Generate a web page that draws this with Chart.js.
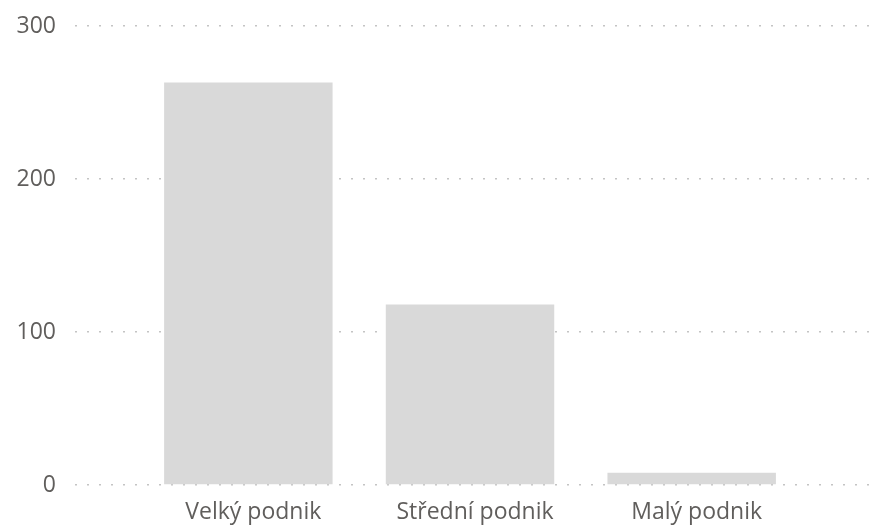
<!DOCTYPE html>
<html>
<head>
<meta charset="utf-8">
<script src="https://cdn.jsdelivr.net/npm/chart.js@4"></script>
<style>
  html, body { margin: 0; padding: 0; background: #fff; }
  #wrap { width: 871px; height: 525px; }
</style>
</head>
<body>
<div id="wrap"><canvas id="myChart"></canvas></div>
<script>
const labels = ['Velký podnik', 'Střední podnik', 'Malý podnik']
const values = [263, 118, 8]
const yTicks = [0, 100, 200, 300]

const points = values.map((v, i) => ({ x: i, y: v }))

const textColor = '#605e5c'
const font = { family: 'Open Sans', size: 23 }

const config = {
    type: 'bar',
    data: {
      datasets: [{
        data: points,
        backgroundColor: '#d9d9d9',
        borderWidth: 0,
        barPercentage: 0.76,
        categoryPercentage: 1
      }]
    },
    options: {
      responsive: false,
      animation: false,
      layout: { padding: { top: 26, right: 0, left: 0, bottom: 0 } },
      plugins: { legend: { display: false }, tooltip: { enabled: false } },
      scales: {
        x: {
          type: 'linear',
          offset: false,
          min: -0.782,
          max: 2.809,
          grid: { display: false },
          border: { display: false },
          afterBuildTicks: (s) => { s.ticks = labels.map((l, i) => ({ value: i })) },
          afterFit: (s) => { s.height = 40; s.paddingLeft = 0; s.paddingRight = 0 },
          ticks: {
            color: textColor,
            font: font,
            padding: 6,
            labelOffset: 5,
            maxRotation: 0,
            callback: (v) => labels[v]
          }
        },
        y: {
          min: 0,
          max: 300,
          afterBuildTicks: (s) => { s.ticks = yTicks.map(v => ({ value: v })) },
          afterFit: (s) => { s.width = 75; s.paddingTop = 0; s.paddingBottom = 0 },
          border: { display: false, dash: [2, 10] },
          grid: {
            color: '#c4c4c4',
            lineWidth: 1.5,
            drawTicks: false
          },
          ticks: {
            color: textColor,
            font: font,
            padding: 19
          }
        }
      }
    }
}

const canvas = document.getElementById('myChart')
canvas.width = 871
canvas.height = 525
const myChart = new Chart(canvas, config)
</script>
</body>
</html>
